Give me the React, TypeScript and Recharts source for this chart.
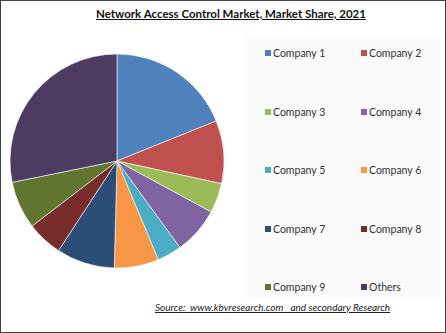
import React from "react";
import { PieChart, Pie, Cell, Legend } from "recharts";

const companies = ["Company 1", "Company 2", "Company 3", "Company 4", "Company 5", "Company 6", "Company 7", "Company 8", "Company 9", "Others"];
const shares = [18.9, 9.5, 4.5, 7.1, 3.7, 6.7, 8.8, 5.4, 7.2, 28.2];
const colors = ["#4F81BD", "#C0504D", "#9BBB59", "#8064A2", "#4BACC6", "#F79646", "#2C4D75", "#772C2A", "#5F7530", "#4D3B62"];

const data = companies.map((name, i) => ({ name, value: shares[i] }));

const FONT = "Lato, 'Open Sans', 'Liberation Sans', sans-serif";

const LegendGrid = () => (
  <div
    style={{
      display: "grid",
      gridTemplateColumns: "96px 80px",
      gridAutoRows: "58.6px",
      fontFamily: FONT,
      fontSize: 10.5,
      color: "#333",
    }}
  >
    {companies.map((c, i) => (
      <div key={c} style={{ display: "flex", alignItems: "flex-start", height: 14 }}>
        <span style={{ display: "inline-block", width: 6, height: 6, background: colors[i], marginTop: 4, marginRight: 2 }} />
        <span style={{ lineHeight: "14px" }}>{c}</span>
      </div>
    ))}
  </div>
);

export default function App() {
  return (
    <div style={{ position: "absolute", left: 0, top: 0, width: 446, height: 333, background: "#fff", fontFamily: FONT }}>
      <div style={{ position: "absolute", left: 245, top: 36, width: 196, height: 262, background: "#fafafa" }} />
      <div
        style={{
          position: "absolute",
          left: 0,
          top: 7,
          width: 462,
          textAlign: "center",
          fontWeight: 700,
          fontSize: 11.5,
          color: "#111",
          textDecoration: "underline",
        }}
      >
        Network Access Control Market, Market Share, 2021
      </div>
      <div style={{ position: "absolute", left: 0, top: 0 }}>
        <PieChart width={446} height={333} margin={{ top: 0, right: 0, bottom: 0, left: 0 }}>
          <Pie
            data={data}
            dataKey="value"
            nameKey="name"
            cx={117}
            cy={161}
            outerRadius={107}
            startAngle={90}
            endAngle={-270}
            stroke="#ffffff"
            strokeWidth={0.6}
            isAnimationActive={false}
          >
            {data.map((d, i) => (
              <Cell key={d.name} fill={colors[i]} />
            ))}
          </Pie>
          <Legend
            content={() => <LegendGrid />}
            wrapperStyle={{ position: "absolute", left: 265, top: 46, width: 180 }}
          />
        </PieChart>
      </div>
      <div
        style={{
          position: "absolute",
          left: 155,
          top: 301,
          fontSize: 10,
          fontStyle: "italic",
          textDecoration: "underline",
          color: "#222",
          whiteSpace: "pre",
        }}
      >
        {"Source:  www.kbvresearch.com   and secondary Research"}
      </div>
      <div style={{ position: "absolute", left: 0, top: 0, width: 444, height: 331, border: "1px solid #444", pointerEvents: "none" }} />
    </div>
  );
}
